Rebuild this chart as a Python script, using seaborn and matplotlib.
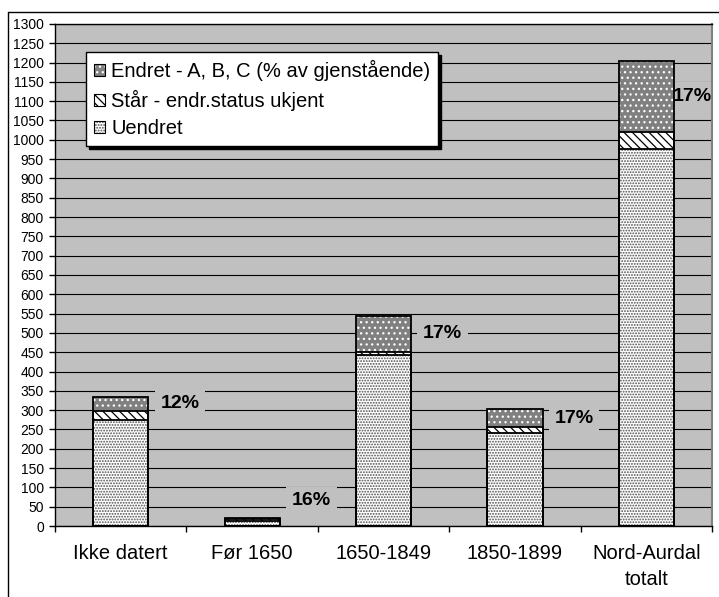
import numpy as np
import pandas as pd
import matplotlib.pyplot as plt
import seaborn as sns
from matplotlib.patches import Patch
from matplotlib.lines import Line2D

categories = ['Ikke datert', 'Før 1650', '1650-1849', '1850-1899', 'Nord-Aurdal\ntotalt']
uendret = [275, 14, 442, 242, 975]
staar = [22, 3, 8, 14, 45]
endret = [38, 3, 95, 47, 185]
pct_labels = ['12%', '16%', '17%', '17%', '17%']
series_names = ['Endret - A, B, C (% av gjenstående)', 'Står - endr.status ukjent', 'Uendret']

sns.set_style('ticks')
plt.rcParams['font.family'] = ['Liberation Sans', 'DejaVu Sans']
plt.rcParams['hatch.linewidth'] = 0.9
plt.rcParams['text.color'] = 'black'
plt.rcParams['xtick.labelcolor'] = 'black'
plt.rcParams['ytick.labelcolor'] = 'black'

df = pd.DataFrame({'kategori': categories, 'uendret': uendret, 'staar': staar, 'endret': endret})
df['staar_top'] = df['uendret'] + df['staar']
df['total'] = df['staar_top'] + df['endret']

fig = plt.figure(figsize=(7.19, 5.97), dpi=100)
ax = fig.add_axes([0.0765, 0.1189, 0.9138, 0.841])
ax.set_facecolor('#c0c0c0')

# layers drawn from top down, each one starts at zero and hides the one below
layers = [
    ('total', '#808080', '...', 'white'),
    ('staar_top', 'white', '\\\\\\\\', 'black'),
    ('uendret', 'white', '......', '#505050'),
]
bw = 0.42
for col, fc, hatch, hc in layers:
    sns.barplot(data=df, x='kategori', y=col, color=fc, saturation=1, hatch=hatch,
                edgecolor=hc, linewidth=0, width=bw, ax=ax, zorder=3)
    sns.barplot(data=df, x='kategori', y=col, fill=False, color='black',
                linewidth=1.3, width=bw, ax=ax, zorder=4)

n = len(categories)
ax.set_xlim(-0.5, n - 0.5)
ax.set_ylim(0, 1300)
ax.set_yticks(np.arange(0, 1301, 50))
ax.set_xlabel('')
ax.set_ylabel('')
ax.set_axisbelow(True)
ax.yaxis.grid(True, color='black', linewidth=0.8)
ax.xaxis.grid(False)

ax.set_xticks(np.arange(-0.5, n), minor=True)
ax.tick_params(axis='x', which='major', length=0, labelsize=14.5, pad=13, labelcolor='black')
ax.tick_params(axis='x', which='minor', length=4, width=1, color='black', direction='out')
ax.tick_params(axis='y', labelsize=10, length=4, width=1, color='black', pad=4, labelcolor='black')
for lab in ax.get_xticklabels():
    lab.set_linespacing(1.45)

for side in ['left', 'bottom', 'top']:
    ax.spines[side].set_color('black')
    ax.spines[side].set_linewidth(1)
ax.spines['right'].set_color('#808080')
ax.spines['right'].set_linewidth(1.5)

# percentage labels to the right of each bar
for i, txt in enumerate(pct_labels):
    y = max(df['staar_top'][i] + df['endret'][i] / 2, 65)
    x = min(i + 0.45, n - 0.65)
    ax.text(x, y, txt, ha='center', va='center', fontsize=14, fontweight='bold', color='black',
            bbox=dict(boxstyle='square,pad=0.3', fc='#c0c0c0', ec='none'), zorder=2, clip_on=True)

handles = []
for col, fc, hatch, hc in layers:
    handles.append((Patch(facecolor=fc, hatch=hatch, edgecolor=hc, linewidth=0),
                    Patch(facecolor='none', edgecolor='black', linewidth=0.8)))
leg = ax.legend(handles, series_names, loc='upper left', bbox_to_anchor=(0.047, 0.944),
                borderaxespad=0, fontsize=14.5, handlelength=0.55, handleheight=0.55,
                handletextpad=0.3, labelspacing=0.42, borderpad=0.4,
                frameon=True, fancybox=False, edgecolor='black', facecolor='white',
                framealpha=1, shadow={'color': 'black', 'alpha': 1})
leg.get_frame().set_linewidth(1)
leg.set_zorder(5)

# outer chart frame (only left and top edge visible in the crop)
fig.add_artist(Line2D([7.5 / 719, 7.5 / 719], [0, 1 - 12 / 597], transform=fig.transFigure,
                      color='black', linewidth=1))
fig.add_artist(Line2D([7.5 / 719, 1], [1 - 12 / 597, 1 - 12 / 597], transform=fig.transFigure,
                      color='black', linewidth=1))

fig.savefig('out.png', dpi=100)
